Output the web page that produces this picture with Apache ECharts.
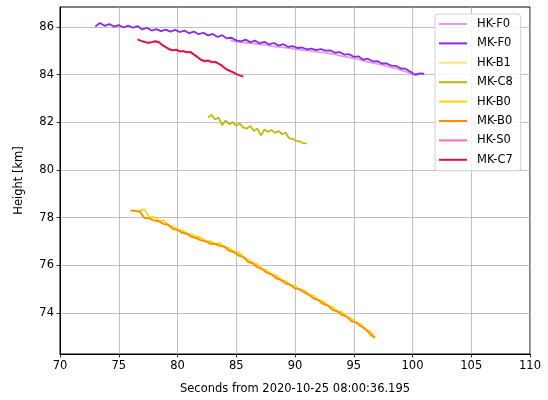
<!DOCTYPE html>
<html>
<head>
<meta charset="utf-8">
<script src="https://cdn.jsdelivr.net/npm/echarts@6/dist/echarts.min.js"></script>
<style>
  html, body { margin: 0; padding: 0; background: #fff; }
  #chart { width: 548px; height: 400px; }
</style>
</head>
<body>
<div id="chart"></div>
<script>
// Meteor track heights per camera, seconds from reference epoch
const hkF0Time = [84.5, 85.0, 85.5, 86.0, 86.5, 87.0, 87.5, 88.0, 88.5, 89.0, 89.5, 90.0, 90.5, 91.0, 91.5, 92.0, 92.5, 93.0, 93.5, 94.0, 94.5, 95.0, 95.5, 96.0, 96.5, 97.0, 97.5, 98.0, 98.5, 99.0, 99.5, 100.0, 100.5];
const hkF0Height = [85.45, 85.38, 85.36, 85.33, 85.30, 85.27, 85.25, 85.20, 85.17, 85.15, 85.11, 85.07, 85.04, 85.01, 84.99, 84.95, 84.93, 84.88, 84.84, 84.78, 84.74, 84.68, 84.63, 84.56, 84.51, 84.45, 84.40, 84.33, 84.27, 84.19, 84.12, 84.02, 83.97];

const mkF0Time = [73.0, 73.4, 73.8, 74.2, 74.6, 75.0, 75.4, 75.8, 76.2, 76.6, 77.0, 77.4, 77.8, 78.2, 78.6, 79.0, 79.4, 79.8, 80.2, 80.6, 81.0, 81.4, 81.8, 82.2, 82.6, 83.0, 83.4, 83.8, 84.2, 84.6, 85.0, 85.4, 85.8, 86.2, 86.6, 87.0, 87.4, 87.8, 88.2, 88.6, 89.0, 89.4, 89.8, 90.2, 90.6, 91.0, 91.4, 91.8, 92.2, 92.6, 93.0, 93.4, 93.8, 94.2, 94.6, 95.0, 95.4, 95.8, 96.2, 96.6, 97.0, 97.4, 97.8, 98.2, 98.6, 99.0, 99.4, 99.8, 100.2, 100.6, 101.0];
const mkF0Height = [86.02, 86.17, 86.05, 86.12, 86.02, 86.08, 85.98, 86.06, 85.97, 86.04, 85.90, 85.97, 85.85, 85.91, 85.83, 85.89, 85.81, 85.88, 85.79, 85.85, 85.74, 85.81, 85.70, 85.76, 85.65, 85.71, 85.58, 85.66, 85.52, 85.55, 85.44, 85.40, 85.47, 85.36, 85.43, 85.31, 85.38, 85.27, 85.33, 85.22, 85.28, 85.17, 85.20, 85.12, 85.14, 85.06, 85.09, 85.03, 85.07, 85.01, 85.02, 84.92, 84.95, 84.84, 84.86, 84.75, 84.77, 84.63, 84.67, 84.56, 84.57, 84.47, 84.47, 84.38, 84.37, 84.26, 84.25, 84.13, 84.00, 84.05, 84.04];

const hkB1Time = [80.0, 80.5, 81.0, 81.5, 82.0, 82.5, 83.0, 83.5, 84.0, 84.5, 85.0, 85.5, 86.0, 86.5, 87.0, 87.5, 88.0, 88.5, 89.0, 89.5, 90.0, 90.5, 91.0, 91.5, 92.0, 92.5, 93.0, 93.5, 94.0];
const hkB1Height = [77.48, 77.38, 77.28, 77.19, 77.09, 76.99, 76.91, 76.85, 76.76, 76.63, 76.49, 76.34, 76.18, 76.05, 75.90, 75.76, 75.62, 75.49, 75.33, 75.20, 75.08, 74.95, 74.81, 74.67, 74.54, 74.40, 74.25, 74.11, 73.97];

const mkC8Time = [82.6, 82.9, 83.2, 83.5, 83.8, 84.1, 84.4, 84.7, 85.0, 85.3, 85.6, 85.9, 86.2, 86.5, 86.8, 87.1, 87.4, 87.7, 88.0, 88.3, 88.6, 88.9, 89.2, 89.5, 89.8, 90.1, 90.4, 90.7, 91.0];
const mkC8Height = [82.20, 82.32, 82.12, 82.20, 81.88, 82.08, 81.92, 82.01, 81.86, 81.95, 81.78, 81.74, 81.85, 81.64, 81.74, 81.45, 81.70, 81.60, 81.68, 81.56, 81.64, 81.50, 81.57, 81.33, 81.31, 81.22, 81.20, 81.13, 81.12];

const hkB0Time = [76.8, 77.2, 77.6, 78.0, 78.4, 78.8, 79.2, 79.6, 80.0, 80.4, 80.8, 81.2, 81.6, 82.0, 82.4, 82.8, 83.2, 83.6, 84.0, 84.4, 84.8, 85.2, 85.6, 86.0, 86.4, 86.8, 87.2, 87.6, 88.0, 88.4, 88.8, 89.2, 89.6, 90.0, 90.4, 90.8, 91.2, 91.6, 92.0, 92.4, 92.8, 93.2, 93.6, 94.0, 94.4, 94.8, 95.2, 95.6, 96.0, 96.4, 96.8];
const hkB0Height = [78.30, 78.35, 78.00, 78.03, 77.85, 77.90, 77.68, 77.64, 77.48, 77.47, 77.34, 77.30, 77.20, 77.16, 77.02, 77.01, 76.90, 76.93, 76.76, 76.72, 76.58, 76.54, 76.34, 76.25, 76.10, 76.04, 75.85, 75.80, 75.62, 75.58, 75.40, 75.34, 75.18, 75.14, 75.00, 74.95, 74.77, 74.72, 74.55, 74.49, 74.32, 74.26, 74.07, 74.04, 73.84, 73.78, 73.60, 73.54, 73.31, 73.23, 72.98];

const mkB0Time = [76.0, 76.4, 76.8, 77.2, 77.6, 78.0, 78.4, 78.8, 79.2, 79.6, 80.0, 80.4, 80.8, 81.2, 81.6, 82.0, 82.4, 82.8, 83.2, 83.6, 84.0, 84.4, 84.8, 85.2, 85.6, 86.0, 86.4, 86.8, 87.2, 87.6, 88.0, 88.4, 88.8, 89.2, 89.6, 90.0, 90.4, 90.8, 91.2, 91.6, 92.0, 92.4, 92.8, 93.2, 93.6, 94.0, 94.4, 94.8, 95.2, 95.6, 96.0, 96.4, 96.8];
const mkB0Height = [78.31, 78.28, 78.26, 77.98, 77.97, 77.88, 77.85, 77.74, 77.71, 77.53, 77.49, 77.36, 77.33, 77.19, 77.14, 77.05, 77.01, 76.90, 76.90, 76.82, 76.79, 76.61, 76.57, 76.41, 76.36, 76.14, 76.09, 75.92, 75.84, 75.69, 75.62, 75.45, 75.39, 75.24, 75.18, 75.03, 74.99, 74.87, 74.76, 74.60, 74.54, 74.38, 74.31, 74.12, 74.07, 73.92, 73.85, 73.66, 73.60, 73.44, 73.32, 73.11, 72.95];

const hkS0Time = [77.0, 77.5, 78.0, 78.5, 79.0, 79.5, 80.0, 80.5, 81.0, 81.5, 82.0, 82.5, 83.0, 83.5, 84.0, 84.5, 85.0];
const hkS0Height = [85.40, 85.34, 85.39, 85.33, 85.15, 85.04, 85.01, 84.98, 84.95, 84.81, 84.63, 84.58, 84.53, 84.47, 84.28, 84.15, 84.04];

const mkC7Time = [76.6, 76.9, 77.2, 77.5, 77.8, 78.1, 78.4, 78.7, 79.0, 79.3, 79.6, 79.9, 80.2, 80.5, 80.8, 81.1, 81.4, 81.7, 82.0, 82.3, 82.6, 82.9, 83.2, 83.5, 83.8, 84.1, 84.4, 84.7, 85.0, 85.3, 85.6];
const mkC7Height = [85.48, 85.42, 85.38, 85.33, 85.36, 85.41, 85.38, 85.24, 85.16, 85.06, 85.02, 85.05, 84.97, 84.99, 84.94, 84.96, 84.85, 84.74, 84.62, 84.56, 84.60, 84.52, 84.55, 84.46, 84.38, 84.24, 84.17, 84.11, 84.03, 83.97, 83.92];

const xTicks = [70, 75, 80, 85, 90, 95, 100, 105, 110];
const yTicks = [74, 76, 78, 80, 82, 84, 86];

const tracks = [
  { name: 'HK-F0', t: hkF0Time, h: hkF0Height, color: '#dd9fe0' },
  { name: 'MK-F0', t: mkF0Time, h: mkF0Height, color: '#8a2be2' },
  { name: 'HK-B1', t: hkB1Time, h: hkB1Height, color: '#f8e68f' },
  { name: 'MK-C8', t: mkC8Time, h: mkC8Height, color: '#bdbc0a' },
  { name: 'HK-B0', t: hkB0Time, h: hkB0Height, color: '#ffd700' },
  { name: 'MK-B0', t: mkB0Time, h: mkB0Height, color: '#ff8c00' },
  { name: 'HK-S0', t: hkS0Time, h: hkS0Height, color: '#ff69b4' },
  { name: 'MK-C7', t: mkC7Time, h: mkC7Height, color: '#dc143c' }
];

const font = 'DejaVu Sans';
const fs = 11.5;
const chart = echarts.init(document.getElementById('chart'), null, { renderer: 'canvas' });

chart.setOption({
  animation: false,
  backgroundColor: '#fff',
  textStyle: { fontFamily: font },
  grid: {
    left: 60, right: 18, top: 7, bottom: 46,
    show: true, borderColor: '#000', borderWidth: 1, containLabel: false
  },
  legend: {
    orient: 'vertical',
    left: 435, top: 14,
    padding: [3, 8, 4, 4],
    itemGap: 5.4,
    itemWidth: 28,
    itemHeight: 2,
    icon: 'rect',
    backgroundColor: 'rgba(255,255,255,0.85)',
    borderColor: '#d0d0d0',
    borderWidth: 1,
    borderRadius: 3,
    textStyle: { fontFamily: font, fontSize: fs, color: '#000', lineHeight: 14, padding: [0, 0, 0, 5] },
    data: tracks.map(s => ({ name: s.name, itemStyle: { color: s.color } }))
  },
  xAxis: {
    type: 'value',
    min: 70, max: 110, interval: 5,
    name: 'Seconds from 2020-10-25 08:00:36.195',
    nameLocation: 'middle',
    nameGap: 29,
    nameTextStyle: { fontFamily: font, fontSize: fs, color: '#000' },
    axisLine: { show: true, onZero: false, lineStyle: { color: '#000', width: 1 } },
    axisTick: { show: true, length: 3.5, lineStyle: { color: '#000', width: 0.8 }, customValues: xTicks },
    axisLabel: { fontFamily: font, fontSize: fs, color: '#000', margin: 6, customValues: xTicks },
    splitLine: { show: true, lineStyle: { color: '#b0b0b0', width: 0.8 } }
  },
  yAxis: {
    type: 'value',
    min: 72.28, max: 86.84,
    name: 'Height [km]',
    nameLocation: 'middle',
    nameGap: 35,
    nameTextStyle: { fontFamily: font, fontSize: fs, color: '#000' },
    axisLine: { show: true, onZero: false, lineStyle: { color: '#000', width: 1 } },
    axisTick: { show: true, length: 3.5, lineStyle: { color: '#000', width: 0.8 }, customValues: yTicks },
    axisLabel: { fontFamily: font, fontSize: fs, color: '#000', margin: 6, customValues: yTicks },
    splitLine: { show: true, lineStyle: { color: '#b0b0b0', width: 0.8 } }
  },
  series: tracks.map(s => ({
    name: s.name,
    type: 'line',
    data: s.t.map((t, i) => [t, s.h[i]]),
    showSymbol: false,
    symbol: 'none',
    lineStyle: { color: s.color, width: 1.8 },
    itemStyle: { color: s.color },
    emphasis: { disabled: true }
  }))
});
</script>
</body>
</html>
